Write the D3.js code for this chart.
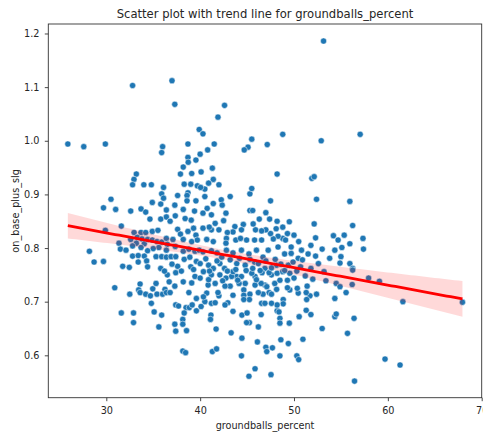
<!DOCTYPE html>
<html>
<head>
<meta charset="utf-8">
<script src="https://cdn.jsdelivr.net/npm/d3@7"></script>
<style>
  body { margin: 0; background: #fff; }
  text { font-family: "DejaVu Sans", sans-serif; fill: #262626; }
</style>
</head>
<body>
<svg id="chart" width="483" height="441"></svg>
<script>
// Ground-ball rate (%) for each hitter
const groundballsPercent = [
  32.8, 37.0, 37.3, 25.9, 27.6, 29.9, 36.0, 38.7, 39.9, 53.15, 42.6, 41.9, 40.3, 41.5, 40.8, 45.5, 45.1, 44.7, 47.15, 48.8, 52.9, 57.05,
  35.9, 38.7, 38.73, 39.55, 38.2, 37.9, 33.2, 32.95, 32.8, 34.0, 34.8, 36.1, 39.1, 39.0, 38.3, 39.7, 38.7, 38.6, 37.6, 35.9,
  36.1, 30.5, 34.9, 35.8, 37.3, 38.6, 39.55, 29.7, 31.0, 32.6, 33.7, 34.2, 36.4, 34.65, 35.8, 36.4, 36.8, 37.35, 38.2, 38.4,
  39.4, 39.05, 29.9, 31.6, 28.2, 28.7, 29.7, 31.75, 32.45, 31.35, 31.5, 32.1, 32.6, 32.96, 33.7, 34.2, 34.9, 35.5, 33.3, 33.8,
  34.05, 33.2, 32.8, 34.4, 34.9, 35.4, 35.9, 36.4, 36.5, 37.1, 37.6, 37.9, 38.7, 39.3, 39.55, 38.2, 39.1, 39.7, 35.6, 35.0,
  33.7, 34.4, 36.4, 37.35, 38.2, 38.8, 39.45, 39.9, 32.8, 33.4, 34.05, 34.3, 33.4, 35.3, 35.9, 36.4, 36.9, 37.4, 38.3, 38.9,
  39.6, 34.4, 35.8, 37.6, 39.0,
  40.0, 41.3, 40.1, 41.4, 40.9, 40.5, 40.05, 42.0, 40.5, 41.4, 42.25, 42.35, 40.75, 40.3, 41.2, 42.75, 42.5, 41.6, 43.2, 45.3,
  45.5, 45.3, 45.6, 47.5, 47.0, 46.3, 47.4, 48.2, 48.8, 48.1, 49.5, 48.2, 51.9, 52.15, 52.4, 52.15, 54.2, 52.3, 50.0, 49.3,
  48.8, 48.3, 47.8, 47.5, 47.0, 46.55, 45.9, 45.65, 44.6, 44.4, 43.7, 43.5, 42.9, 42.0, 41.2, 40.97, 40.3, 40.7, 41.4, 42.8,
  42.75, 43.8, 44.3, 44.95, 45.8, 46.55, 48.3, 49.1, 49.7, 50.8, 51.5, 52.3, 54.35, 54.7, 40.3, 41.2, 41.8, 42.8, 43.5, 44.4,
  45.2, 46.0, 46.7, 47.25, 49.0, 49.7, 50.45, 40.0, 40.9, 42.1, 43.9, 44.8, 45.8, 48.15, 49.4, 50.7, 41.4, 42.6, 46.9,
  55.95, 56.25, 55.35, 57.35, 55.95, 55.1, 57.4, 55.0, 55.95, 56.25, 54.9,
  30.9, 32.5, 33.6, 33.45, 33.6, 34.2, 34.7, 34.95, 35.3, 35.4, 36.0, 36.25, 36.4, 36.8, 36.7, 37.3, 36.5, 37.4, 38.2, 39.1,
  39.45, 38.8, 39.6, 34.8, 37.4, 37.7, 38.5, 38.85, 39.15, 39.6, 38.3, 31.6, 32.9, 35.1, 35.9, 32.9, 35.6, 38.15, 38.15, 37.3,
  37.4, 38.55, 38.15, 38.45,
  40.0, 40.7, 40.5, 41.2, 40.1, 41.15, 41.1, 41.7, 43.3, 44.45, 46.1, 47.0, 47.1, 47.7, 48.6, 49.4, 50.95, 48.5, 50.3, 50.5,
  41.3, 41.75, 44.4, 45.85, 45.2, 47.55, 45.25, 44.95, 46.2, 44.45, 45.0, 46.5, 43.5, 48.2, 48.4, 48.5, 48.5, 49.5, 50.55, 51.3,
  51.8, 53.0, 54.35, 54.5, 54.35, 54.5, 53.4, 52.4, 51.7, 51.35, 51.3, 51.4, 50.45, 50.35, 49.55, 49.3, 49.3, 49.55, 48.85, 48.85,
  48.2, 47.6, 47.35, 47.6, 48.15, 47.95, 48.5, 47.6, 48.2, 47.35, 48.8, 46.6, 46.9, 47.1, 46.7, 46.2, 46.55, 46.9, 45.85, 45.3,
  45.25, 46.5, 45.85, 45.5, 44.8, 44.65, 44.65, 44.65, 44.15, 43.9, 44.4, 43.35, 43.2, 42.65, 43.5, 42.95, 42.65, 42.0, 41.6, 41.9,
  41.6, 40.85, 40.35, 42.1, 42.75, 41.2, 40.35, 43.5,
  56.25, 54.9, 56.2, 55.55, 57.95, 59.1, 61.6, 67.95, 56.4, 55.7, 59.7, 61.3, 56.45,
  40.6, 41.0, 41.8, 42.3, 42.9, 43.2, 43.8, 44.2, 44.9, 45.3, 45.6, 46.2, 46.4, 47.0, 47.6, 48.0, 48.6, 49.0, 49.9, 50.3,
  50.9, 51.2, 51.8, 52.6, 53.2, 53.8, 52.0, 50.0, 46.0, 44.0, 42.4, 40.9, 37.0, 38.0, 39.3, 36.2,
  50.5, 51.8, 53.0
];

// On-base plus slugging for the same hitters, in the same order
const onBasePlusSlg = [
  1.103, 1.112, 1.068, 0.994, 0.989, 0.994, 0.989, 0.994, 1.021, 1.186, 1.066, 1.044, 1.013, 0.994, 0.983, 1.003, 0.988, 0.983, 0.993, 1.012, 1.000, 1.012,
  0.978, 0.969, 0.960, 0.964, 0.951, 0.938, 0.938, 0.928, 0.918, 0.918, 0.918, 0.913, 0.939, 0.919, 0.919, 0.916, 0.903, 0.898, 0.898, 0.901,
  0.893, 0.891, 0.885, 0.882, 0.880, 0.888, 0.888, 0.875, 0.872, 0.869, 0.873, 0.867, 0.871, 0.854, 0.854, 0.858, 0.850, 0.860, 0.872, 0.855,
  0.869, 0.852, 0.833, 0.841, 0.794, 0.774, 0.775, 0.766, 0.764, 0.809, 0.798, 0.796, 0.816, 0.829, 0.829, 0.829, 0.831, 0.833, 0.820, 0.817,
  0.808, 0.809, 0.804, 0.816, 0.815, 0.812, 0.811, 0.818, 0.807, 0.816, 0.835, 0.826, 0.831, 0.837, 0.824, 0.816, 0.812, 0.815, 0.801, 0.799,
  0.801, 0.795, 0.796, 0.803, 0.794, 0.798, 0.794, 0.796, 0.785, 0.786, 0.785, 0.776, 0.774, 0.784, 0.784, 0.783, 0.784, 0.784, 0.779, 0.783,
  0.775, 0.765, 0.762, 0.766, 0.765,
  0.975, 0.949, 0.942, 0.928, 0.921, 0.910, 0.913, 0.918, 0.896, 0.883, 0.890, 0.880, 0.874, 0.865, 0.862, 0.865, 0.851, 0.846, 0.896, 0.901,
  0.911, 0.870, 0.870, 0.888, 0.866, 0.854, 0.854, 0.850, 0.839, 0.836, 0.849, 0.938, 0.930, 0.933, 0.891, 0.845, 0.823, 0.819, 0.824, 0.827,
  0.818, 0.822, 0.817, 0.827, 0.834, 0.832, 0.834, 0.845, 0.844, 0.834, 0.840, 0.830, 0.829, 0.834, 0.834, 0.839, 0.837, 0.816, 0.812, 0.818,
  0.809, 0.815, 0.818, 0.815, 0.815, 0.815, 0.802, 0.815, 0.802, 0.796, 0.789, 0.785, 0.796, 0.815, 0.793, 0.795, 0.791, 0.796, 0.791, 0.796,
  0.789, 0.796, 0.783, 0.796, 0.789, 0.790, 0.781, 0.771, 0.768, 0.771, 0.771, 0.768, 0.774, 0.768, 0.768, 0.765, 0.762, 0.762, 0.762,
  0.887, 0.842, 0.824, 0.818, 0.808, 0.801, 0.798, 0.784, 0.771, 0.762, 0.772,
  0.726, 0.714, 0.733, 0.722, 0.717, 0.714, 0.711, 0.724, 0.734, 0.714, 0.714, 0.723, 0.717, 0.717, 0.737, 0.729, 0.750, 0.754, 0.737, 0.735,
  0.747, 0.717, 0.706, 0.697, 0.694, 0.692, 0.689, 0.689, 0.694, 0.683, 0.679, 0.679, 0.679, 0.681, 0.675, 0.661, 0.653, 0.667, 0.658, 0.658,
  0.645, 0.646, 0.608, 0.605,
  0.744, 0.716, 0.700, 0.697, 0.691, 0.675, 0.667, 0.649, 0.642, 0.632, 0.625, 0.615, 0.607, 0.614, 0.629, 0.622, 0.630, 0.599, 0.599, 0.592,
  0.607, 0.612, 0.599, 0.575, 0.561, 0.564, 0.661, 0.661, 0.653, 0.675, 0.679, 0.676, 0.682, 0.683, 0.681, 0.669, 0.660, 0.660, 0.672, 0.684,
  0.676, 0.650, 0.672, 0.677, 0.706, 0.734, 0.739, 0.714, 0.711, 0.704, 0.717, 0.729, 0.716, 0.725, 0.722, 0.726, 0.740, 0.753, 0.704, 0.696,
  0.694, 0.697, 0.717, 0.714, 0.723, 0.734, 0.740, 0.750, 0.753, 0.754, 0.756, 0.754, 0.731, 0.728, 0.714, 0.717, 0.697, 0.697, 0.731, 0.714,
  0.704, 0.734, 0.747, 0.753, 0.734, 0.722, 0.712, 0.704, 0.734, 0.747, 0.747, 0.747, 0.729, 0.729, 0.712, 0.698, 0.694, 0.711, 0.698, 0.717,
  0.734, 0.731, 0.709, 0.750, 0.744, 0.750, 0.756, 0.756,
  0.759, 0.728, 0.732, 0.717, 0.744, 0.738, 0.700, 0.699, 0.669, 0.641, 0.593, 0.582, 0.552,
  0.780, 0.757, 0.776, 0.783, 0.757, 0.778, 0.760, 0.781, 0.758, 0.779, 0.762, 0.771, 0.758, 0.776, 0.763, 0.779, 0.770, 0.758, 0.774, 0.757,
  0.778, 0.748, 0.762, 0.771, 0.756, 0.781, 0.742, 0.744, 0.741, 0.740, 0.739, 0.741, 0.770, 0.757, 0.760, 0.757,
  0.812, 0.805, 0.798
];

const xTickValues = [30, 40, 50, 60, 70];
const yTickValues = [0.6, 0.7, 0.8, 0.9, 1.0, 1.1, 1.2];

const titleText = "Scatter plot with trend line for groundballs_percent";
const xLabel = "groundballs_percent";
const yLabel = "on_base_plus_slg";

const svg = d3.select("#chart");
const margin = { left: 48.3, right: 1.3, top: 24, bottom: 43.3 };
const W = 483, H = 441;
const x = d3.scaleLinear().domain([23.82, 70.0]).range([margin.left, W - margin.right]);
const y = d3.scaleLinear().domain([0.521, 1.2177]).range([H - margin.bottom, margin.top]);

const points = groundballsPercent.map((g, i) => ({ x: g, y: onBasePlusSlg[i] }));

// ordinary least squares fit with a 95% confidence band
const n = points.length;
const mx = d3.mean(points, d => d.x), my = d3.mean(points, d => d.y);
const sxx = d3.sum(points, d => (d.x - mx) ** 2);
const sxy = d3.sum(points, d => (d.x - mx) * (d.y - my));
const slope = sxy / sxx, intercept = my - slope * mx;
const resid = d3.sum(points, d => (d.y - (intercept + slope * d.x)) ** 2);
const se = Math.sqrt(resid / (n - 2));
const tCrit = 1.966;
const [xMin, xMax] = d3.extent(points, d => d.x);
const grid = d3.range(0, 101).map(i => xMin + (xMax - xMin) * i / 100);
const fit = grid.map(gx => {
  const yh = intercept + slope * gx;
  const h = tCrit * se * Math.sqrt(1 / n + (gx - mx) ** 2 / sxx);
  return { x: gx, y: yh, lo: yh - h, hi: yh + h };
});

// scatter
svg.append("g").selectAll("circle").data(points).join("circle")
  .attr("cx", d => x(d.x)).attr("cy", d => y(d.y)).attr("r", 3.1)
  .attr("fill", "#1f77b4").attr("stroke", "#fff").attr("stroke-width", 0.5);

// confidence band and trend line
svg.append("path").datum(fit)
  .attr("d", d3.area().x(d => x(d.x)).y0(d => y(d.lo)).y1(d => y(d.hi)))
  .attr("fill", "#ff0000").attr("fill-opacity", 0.15);
svg.append("path").datum(fit)
  .attr("d", d3.line().x(d => x(d.x)).y(d => y(d.y)))
  .attr("fill", "none").attr("stroke", "#ff0000").attr("stroke-width", 2.8);

// frame
svg.append("rect")
  .attr("x", margin.left).attr("y", margin.top)
  .attr("width", W - margin.left - margin.right).attr("height", H - margin.top - margin.bottom)
  .attr("fill", "none").attr("stroke", "#333").attr("stroke-width", 0.9);

// axes
const xAxis = svg.append("g").attr("transform", `translate(0,${H - margin.bottom})`)
  .call(d3.axisBottom(x).tickValues(xTickValues).tickFormat(d3.format("d")).tickSize(3.5).tickPadding(5.5));
const yAxis = svg.append("g").attr("transform", `translate(${margin.left},0)`)
  .call(d3.axisLeft(y).tickValues(yTickValues).tickFormat(d3.format(".1f")).tickSize(3.5).tickPadding(5.3));
[xAxis, yAxis].forEach(a => {
  a.select(".domain").remove();
  a.selectAll(".tick line").attr("stroke", "#333").attr("stroke-width", 0.9);
  a.selectAll(".tick text").attr("font-size", 9.7).attr("font-family", "DejaVu Sans").attr("fill", "#262626");
});

svg.append("text").attr("x", (margin.left + W - margin.right) / 2).attr("y", 17.5)
  .attr("text-anchor", "middle").attr("font-size", 11.6).text(titleText);
svg.append("text").attr("x", (margin.left + W - margin.right) / 2).attr("y", 429)
  .attr("text-anchor", "middle").attr("font-size", 9.7).text(xLabel);
svg.append("text").attr("transform", `translate(18.5,${(margin.top + H - margin.bottom) / 2}) rotate(-90)`)
  .attr("text-anchor", "middle").attr("font-size", 9.7).text(yLabel);
</script>
</body>
</html>
